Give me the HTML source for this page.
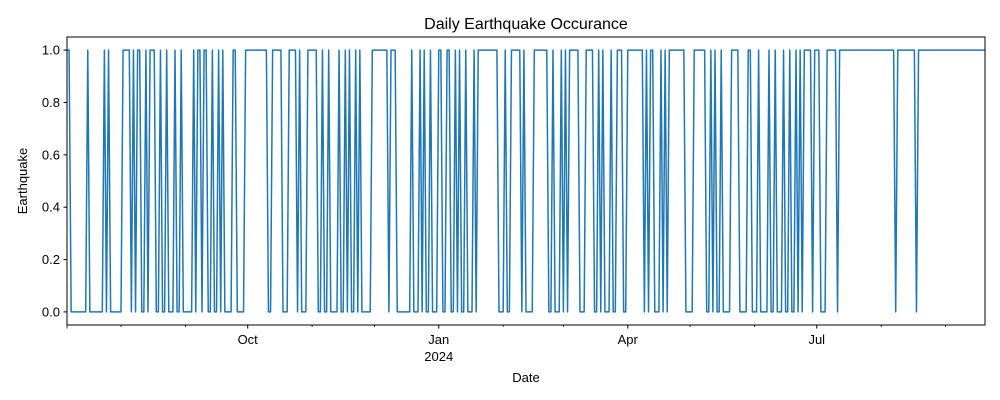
<!DOCTYPE html>
<html><head><meta charset="utf-8"><style>
html,body{margin:0;padding:0;background:#fff;}
svg{display:block;font-family:"Liberation Sans","DejaVu Sans",sans-serif;}
</style></head><body>
<svg id="chart" width="1000" height="400">
<rect width="1000" height="400" fill="#fff"/>
<text x="526" y="29" font-size="16" text-anchor="middle">Daily Earthquake Occurance</text>
<text x="27" y="181" font-size="13" text-anchor="middle" transform="rotate(-90 27 181)">Earthquake</text>
<text x="526" y="382" font-size="13" text-anchor="middle">Date</text>
<g id="marks"></g>
<rect x="67" y="37" width="918" height="288" fill="none" stroke="#000" stroke-width="1"/>
</svg>
<script>
// Day 0 = 2023-07-06; runs of days where earthquake occurred (value 1)
const runStarts = [0,10,18,20,27,32,34,38,40,45,48,52,55,61,63,66,70,73,75,80,86,95,99,107,112,116,123,126,131,134,136,139,141,147,156,166,170,172,175,179,183,187,189,192,196,198,211,214,220,225,234,238,240,242,250,256,258,262,265,270,279,281,286,288,290,302,310,312,315,320,328,333,338,341,345,348,351,353,355,360,366,372,400,410];
const runEnds   = [1,10,18,20,30,32,35,38,42,45,48,52,55,61,64,67,70,73,75,81,94,96,103,110,112,120,123,126,131,134,136,139,141,154,158,166,170,172,175,180,184,187,189,192,196,207,211,218,220,231,234,238,240,246,253,256,258,262,267,277,279,282,286,288,297,307,310,312,315,323,329,333,338,341,345,348,351,353,358,362,370,398,408,442];
const dayCount = 443;
const yTicks = [0.0,0.2,0.4,0.6,0.8,1.0];
const yTickLabels = ["0.0","0.2","0.4","0.6","0.8","1.0"];
const majorTickDays = [87,179,270,361];
const majorTickLabels = ["Oct","Jan","Apr","Jul"];
const minorTickDays = [0,26,57,118,148,210,239,300,331,392,423];

const NS="http://www.w3.org/2000/svg";
const svg=document.getElementById('chart');
const marks=document.getElementById('marks');
const X0=67,X1=985,Y0=37,Y1=325;
const xs=d=>X0+(d/(dayCount-1))*(X1-X0);
const ys=v=>Y1-(v+0.05)/1.1*(Y1-Y0);
function mk(tag,attrs){const e=document.createElementNS(NS,tag);for(const k in attrs)e.setAttribute(k,attrs[k]);return e;}

const values=new Array(dayCount).fill(0);
runStarts.forEach((s,i)=>{for(let d=s;d<=runEnds[i];d++)values[d]=1;});
let pts=values.map((v,d)=>xs(d).toFixed(2)+','+ys(v).toFixed(2)).join(' ');
const line=mk('polyline',{points:pts,fill:'none',stroke:'#1f77b4','stroke-width':1.5,'stroke-linejoin':'round'});


marks.appendChild(line);

yTicks.forEach((t,i)=>{
  const y=ys(t);
  const tk=mk('line',{x1:X0-3.5,x2:X0,y1:y,y2:y,stroke:'#000'});
  
  
  svg.appendChild(tk);
  const tx=mk('text',{x:X0-7,y:y+4.5,'font-size':13,'text-anchor':'end'});
  tx.textContent=yTickLabels[i];
  
  
  svg.appendChild(tx);
});
majorTickDays.forEach((d,i)=>{
  const x=xs(d);
  const tk=mk('line',{x1:x,x2:x,y1:Y1,y2:Y1+3.5,stroke:'#000'});
  
  
  svg.appendChild(tk);
  const tx=mk('text',{x:x,y:Y1+19,'font-size':13,'text-anchor':'middle'});
  tx.textContent=majorTickLabels[i];
  
  
  svg.appendChild(tx);
  if(majorTickLabels[i]==='Jan'){
    const yr=mk('text',{x:x,y:Y1+36,'font-size':13,'text-anchor':'middle'});
    yr.textContent='2024';
    
    
    svg.appendChild(yr);
  }
});
minorTickDays.forEach(d=>{
  const x=xs(d);
  const tk=mk('line',{x1:x,x2:x,y1:Y1,y2:Y1+(d===0?3.5:2),stroke:'#000','stroke-width':0.8});
  
  
  svg.appendChild(tk);
});
</script>
</body></html>
